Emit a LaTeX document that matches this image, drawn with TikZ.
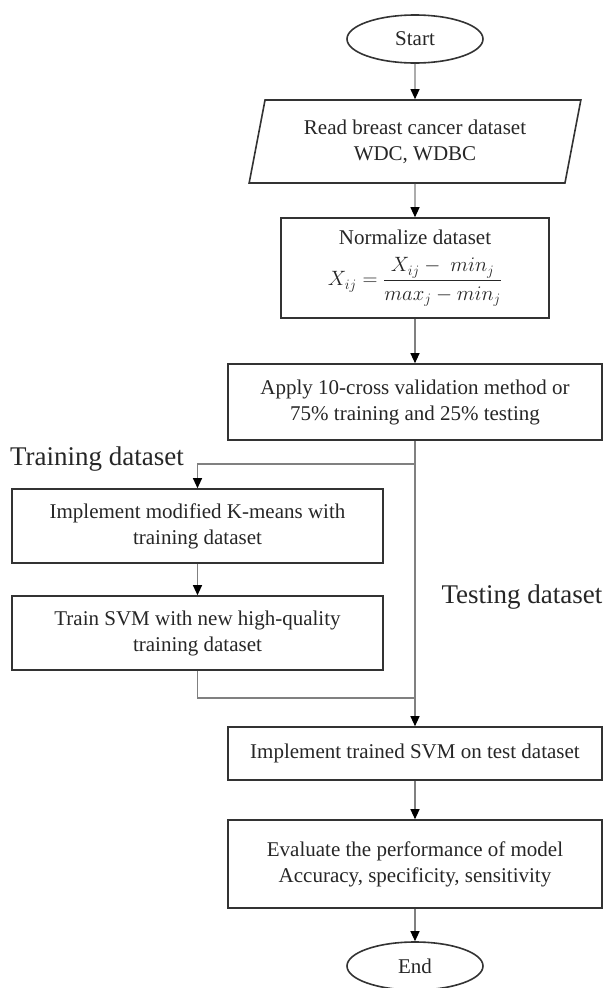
\documentclass[tikz,border=0pt]{standalone}
\usepackage{amsmath}
\usepackage{fontspec}
\setmainfont{Liberation Serif}
\usetikzlibrary{shapes.geometric,arrows.meta,positioning}

\begin{document}
\begin{tikzpicture}[x=1pt,y=-1pt,
    font=\fontsize{21}{26}\selectfont, text=black!85,
    box/.style={draw=black!80,line width=1.6pt,align=center,minimum width=374pt,inner sep=2pt},
    term/.style={ellipse,draw=black!80,line width=1.6pt,minimum width=136pt,minimum height=48pt,inner sep=0pt},
    wire/.style={draw=gray,line width=1.1pt},
    conn/.style={wire,-{Triangle[length=10pt,width=9pt,fill=black,color=black]}},
    lbl/.style={font=\fontsize{27}{30}\selectfont}]
  \useasboundingbox (0,0) rectangle (604,988);

  \node[term] (start) at (415,39) {Start};
  \node[trapezium,trapezium left angle=76.5,trapezium right angle=103.5,trapezium stretches=true,
        draw=black!80,line width=1.6pt,minimum width=333pt,minimum height=83pt,align=center]
        (read) at (415,141.5) {Read breast cancer dataset\\WDC, WDBC};
  \node[box,minimum width=268pt,minimum height=100pt] (norm) at (415,268)
        {Normalize dataset\\[12pt] $X_{ij} = \dfrac{X_{ij} -\ min_j}{max_j - min_j}$};
  \node[box,minimum height=76pt] (apply) at (415,402)
        {Apply 10-cross validation method or\\75\% training and 25\% testing};
  \node[box,minimum width=371pt,minimum height=74pt] (kmeans) at (197.5,526)
        {Implement modified K-means with\\training dataset};
  \node[box,minimum width=371pt,minimum height=74pt] (train) at (197.5,633)
        {Train SVM with new high-quality\\training dataset};
  \node[box,minimum height=53pt] (impl) at (415,753.5) {Implement trained SVM on test dataset};
  \node[box,minimum height=88pt] (eval) at (415,864)
        {Evaluate the performance of model\\Accuracy, specificity, sensitivity};
  \node[term] (end) at (415,966) {End};

  \node[lbl] (trlbl) at (97,459) {Training dataset};
  \node[lbl] (telbl) at (522,597) {Testing dataset};

  \coordinate (split) at (415,464);
  \coordinate (join) at (415,698);

  \foreach \a/\b in {start/read, read/norm, norm/apply, apply/impl, kmeans/train, impl/eval, eval/end}
    \draw[conn] (\a) -- (\b);
  \draw[conn] (split) -| (kmeans);
  \draw[wire] (train) |- (join);
\end{tikzpicture}
\end{document}
